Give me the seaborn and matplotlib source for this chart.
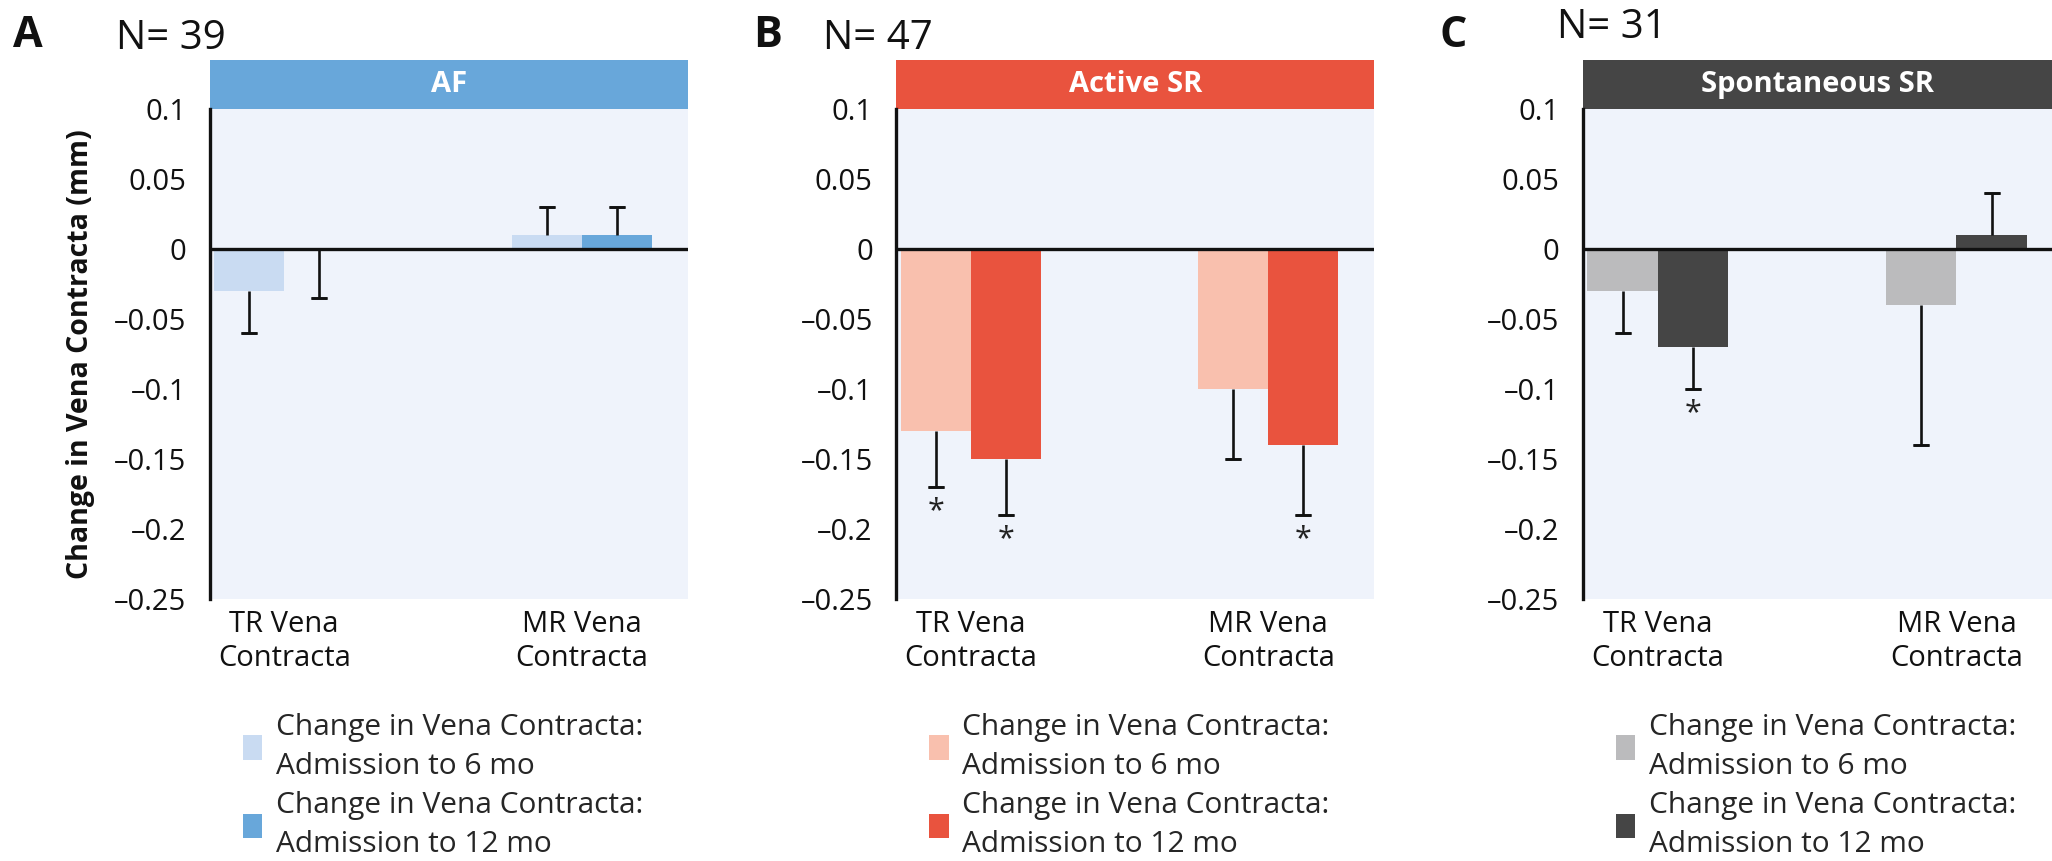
import matplotlib
matplotlib.use("Agg")
import matplotlib.pyplot as plt
from matplotlib.patches import Rectangle, Patch
import pandas as pd
import seaborn as sns

# categories
valves = ["TR Vena\nContracta", "MR Vena\nContracta"]
periods = ["Change in Vena Contracta:\nAdmission to 6 mo",
           "Change in Vena Contracta:\nAdmission to 12 mo"]

# panel A - AF (N=39)
af_6mo = [-0.03, 0.01]
af_12mo = [0.0, 0.01]
af_err_6mo = [0.03, 0.02]
af_err_12mo = [0.035, 0.02]
af_star_6mo = [False, False]
af_star_12mo = [False, False]

# panel B - active SR (N=47)
act_6mo = [-0.13, -0.10]
act_12mo = [-0.15, -0.14]
act_err_6mo = [0.04, 0.05]
act_err_12mo = [0.04, 0.05]
act_star_6mo = [True, False]
act_star_12mo = [True, True]

# panel C - spontaneous SR (N=31)
spo_6mo = [-0.03, -0.04]
spo_12mo = [-0.07, 0.01]
spo_err_6mo = [0.03, 0.10]
spo_err_12mo = [0.03, 0.03]
spo_star_6mo = [False, False]
spo_star_12mo = [True, False]

yticks = [0.1, 0.05, 0, -0.05, -0.1, -0.15, -0.2, -0.25]
ytick_labels = ["0.1", "0.05", "0", "\u20130.05", "\u20130.1", "\u20130.15", "\u20130.2", "\u20130.25"]

panels = [
    dict(letter="A", n="N= 39", title="AF", v6=af_6mo, v12=af_12mo, e6=af_err_6mo, e12=af_err_12mo,
         s6=af_star_6mo, s12=af_star_12mo, colors=["#c9dbf2", "#68a7da"], header="#68a7da"),
    dict(letter="B", n="N= 47", title="Active SR", v6=act_6mo, v12=act_12mo, e6=act_err_6mo, e12=act_err_12mo,
         s6=act_star_6mo, s12=act_star_12mo, colors=["#f9c0ae", "#e9533e"], header="#e9533e"),
    dict(letter="C", n="N= 31", title="Spontaneous SR", v6=spo_6mo, v12=spo_12mo, e6=spo_err_6mo, e12=spo_err_12mo,
         s6=spo_star_6mo, s12=spo_star_12mo, colors=["#bbbbbd", "#454545"], header="#454545"),
]

sns.set_theme(style="white")
plt.rcParams["font.family"] = ["Open Sans", "DejaVu Sans"]

W, H = 2052, 861
fig = plt.figure(figsize=(W / 100, H / 100), dpi=100)

# layout in pixels
ax_left = [209.8, 896.4, 1583]
ax_width = [477.7, 477.6, 469]
ax_xmax = [1.355, 1.355, 1.32]
ax_top, ax_bottom = 108.7, 599
header_h = 48.2 / (ax_bottom - ax_top)
letter_x = [13, 753.6, 1439.5]
n_x = [116, 822.8, 1557]
n_base = [49, 49, 37.6]

for i, p in enumerate(panels):
    ax = fig.add_axes([ax_left[i] / W, 1 - ax_bottom / H, ax_width[i] / W, (ax_bottom - ax_top) / H])
    ax.set_facecolor("#eff3fb")

    df = pd.DataFrame({
        "valve": valves * 2,
        "period": [periods[0]] * 2 + [periods[1]] * 2,
        "change": p["v6"] + p["v12"],
        "err": p["e6"] + p["e12"],
        "star": p["s6"] + p["s12"],
    })

    sns.barplot(data=df, x="valve", y="change", hue="period", hue_order=periods,
                palette=p["colors"], width=0.47, saturation=1, errorbar=None,
                linewidth=0, legend=False, ax=ax, zorder=2)

    ax.axhline(0, color="#111111", lw=2.4, zorder=3)

    # one-sided error bars, pointing away from zero, cap only at the far end
    bar_conts = list(ax.containers)
    for k, cont in enumerate(bar_conts):
        sub = df[df["period"] == periods[k]].reset_index(drop=True)
        for j, bar in enumerate(cont):
            x = bar.get_x() + bar.get_width() / 2
            val, err = sub.loc[j, "change"], sub.loc[j, "err"]
            end = val - err if val <= 0 else val + err
            ax.vlines(x, val, end, color="#111111", lw=1.9, zorder=4)
            ax.errorbar(x, end, yerr=0, fmt="none", ecolor="#111111",
                        elinewidth=1.9, capsize=5.5, capthick=1.9, zorder=4)
            if sub.loc[j, "star"]:
                ax.text(x, end - 0.017, "*", ha="center", va="center",
                        fontsize=22, color="#222222", zorder=5)

    ax.set_xlim(-0.25, ax_xmax[i])
    ax.set_ylim(-0.25, 0.1)
    ax.set_yticks(yticks)
    ax.set_yticklabels(ytick_labels)
    ax.set_xlabel("")
    ax.set_ylabel("")
    for side in ["top", "right", "bottom"]:
        ax.spines[side].set_visible(False)
    ax.spines["left"].set_color("#111111")
    ax.spines["left"].set_linewidth(2.4)
    ax.tick_params(axis="y", length=9, width=2.4, color="#111111", pad=8, labelsize=21, labelcolor="#111111")
    ax.tick_params(axis="x", length=0, pad=8, labelsize=21, labelcolor="#111111")

    if i == 0:
        ax.set_ylabel("Change in Vena Contracta (mm)", fontsize=20.5, fontweight="bold", color="#111111")
        ax.yaxis.set_label_coords(-0.24, 0.5)

    # coloured header band
    ax.add_patch(Rectangle((0, 1), 1, header_h, transform=ax.transAxes,
                           facecolor=p["header"], edgecolor="none", clip_on=False))
    ax.text(0.5, 1 + header_h / 2, p["title"], transform=ax.transAxes, ha="center", va="center",
            fontsize=21, fontweight="bold", color="white")

    fig.text(letter_x[i] / W, 1 - 47 / H, p["letter"], fontsize=31, fontweight="bold",
             ha="left", va="baseline", color="#111111")
    fig.text(n_x[i] / W, 1 - n_base[i] / H, p["n"], fontsize=29,
             ha="left", va="baseline", color="#111111")

    handles = [Patch(facecolor=c, edgecolor="none") for c in p["colors"]]
    leg = ax.legend(handles, periods, loc="upper left",
                    bbox_to_anchor=((ax_left[i] + 33) / W, 1 - 713 / H), bbox_transform=fig.transFigure,
                    frameon=False, fontsize=21.5, handlelength=0.65, handleheight=0.9,
                    handletextpad=0.45, labelspacing=0.35, borderpad=0, borderaxespad=0)
    for t in leg.get_texts():
        t.set_linespacing(1.45)

fig.savefig("out.png", dpi=100)
